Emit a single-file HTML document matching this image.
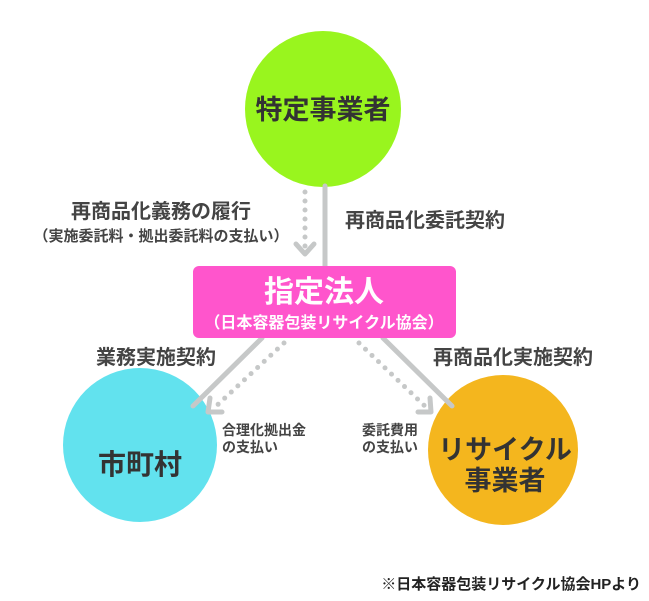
<!DOCTYPE html>
<html><head><meta charset="utf-8"><style>
body{margin:0;width:649px;height:596px;background:#fff;overflow:hidden;font-family:"Liberation Sans","Noto Sans CJK JP",sans-serif;}
</style></head><body>
<svg width="649" height="596" viewBox="0 0 649 596" xmlns="http://www.w3.org/2000/svg" font-family="Liberation Sans, Noto Sans CJK JP, sans-serif">
<circle cx="323" cy="109" r="78" fill="#99f51e"/>
<circle cx="140" cy="445" r="77" fill="#62e2ee"/>
<circle cx="503" cy="450" r="75" fill="#f4b61e"/>
<g stroke="#c6c8c8" stroke-width="5" fill="none" stroke-linecap="round" stroke-linejoin="round">
<line x1="325" y1="186" x2="325" y2="266"/>
<line x1="262" y1="338" x2="193" y2="406"/>
<line x1="383" y1="338" x2="452" y2="406"/>
<line x1="305" y1="192" x2="305" y2="252" stroke-dasharray="0 9"/>
<polyline points="296,244 305,254 314,244"/>
<line x1="284" y1="343" x2="212" y2="410" stroke-dasharray="0 9"/>
<polyline points="210,398 208,412 222,412"/>
<line x1="359" y1="343" x2="429" y2="410" stroke-dasharray="0 9"/>
<polyline points="418,412 431,412 430,398"/>
</g>
<rect x="193" y="266" width="263" height="72" rx="6" fill="#ff55cc"/>
<g font-weight="bold" text-anchor="middle">
<text x="323" y="119" font-size="27" fill="#333">特定事業者</text>
<text x="324" y="302" font-size="30" fill="#fff">指定法人</text>
<text x="324" y="328" font-size="16" fill="#fff">（日本容器包装リサイクル協会）</text>
<text x="140" y="474" font-size="28" fill="#333">市町村</text>
<text x="505" y="459" font-size="27" fill="#333">リサイクル</text>
<text x="505" y="490" font-size="27" fill="#333">事業者</text>
<text x="161" y="218" font-size="20" fill="#444">再商品化義務の履行</text>
<text x="161" y="241" font-size="15" fill="#444">（実施委託料・拠出委託料の支払い）</text>
<text x="425" y="227" font-size="20" fill="#444">再商品化委託契約</text>
<text x="156" y="364" font-size="20" fill="#444">業務実施契約</text>
<text x="513" y="364" font-size="20" fill="#444">再商品化実施契約</text>
</g>
<g font-size="14" fill="#444" font-weight="bold">
<text x="222" y="435">合理化拠出金</text>
<text x="222" y="452">の支払い</text>
<text x="362" y="435">委託費用</text>
<text x="362" y="452">の支払い</text>
<text x="641" y="589" text-anchor="end" font-size="15" fill="#222">※日本容器包装リサイクル協会HPより</text>
</g>
</svg>
</body></html>
